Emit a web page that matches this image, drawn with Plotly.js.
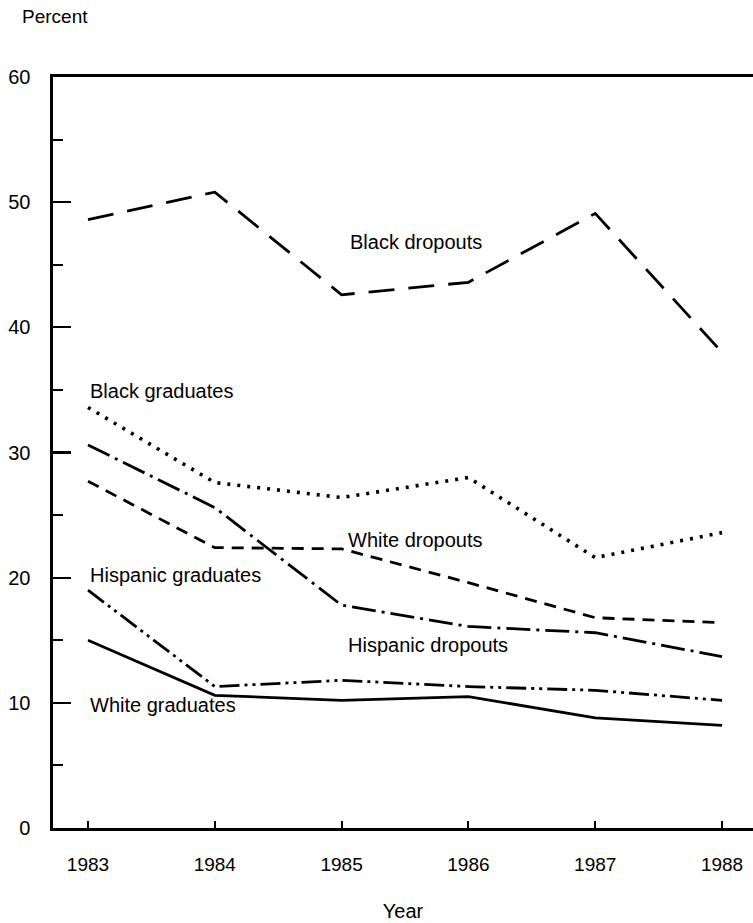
<!DOCTYPE html>
<html>
<head>
<meta charset="utf-8">
<script src="https://cdn.plot.ly/plotly-3.0.1.min.js"></script>
<style>html,body{margin:0;padding:0;background:#fff;}#chart{width:753px;height:923px;}</style>
</head>
<body>
<div id="chart"></div>
<script>
const years = [1983, 1984, 1985, 1986, 1987, 1988];
const blackDropouts = [48.6, 50.8, 42.6, 43.6, 49.1, 38.0];
const blackGraduates = [33.6, 27.6, 26.4, 28.0, 21.6, 23.6];
const hispanicDropouts = [30.6, 25.6, 17.8, 16.1, 15.6, 13.7];
const whiteDropouts = [27.7, 22.4, 22.3, 19.6, 16.8, 16.4];
const hispanicGraduates = [19.0, 11.3, 11.8, 11.3, 11.0, 10.2];
const whiteGraduates = [15.0, 10.6, 10.2, 10.5, 8.8, 8.2];
const yTicks = [0, 10, 20, 30, 40, 50, 60];
const xTickLabels = ['1983', '1984', '1985', '1986', '1987', '1988'];

const FONT = 'Liberation Sans, Arial, Helvetica, sans-serif';
const W = 2.8;
function tr(y, dash, w) {
  return {x: years, y: y, type: 'scatter', mode: 'lines',
    line: {color: 'black', width: w || W, dash: dash}, hoverinfo: 'skip', showlegend: false};
}
const data = [
  tr(blackDropouts, '26px,14px'),
  tr(blackGraduates, '3px,7px', 3.6),
  tr(hispanicDropouts, '24px,6px,3px,6px'),
  tr(whiteDropouts, '12px,8px'),
  tr(hispanicGraduates, '20px,5px,3px,5px,3px,5px'),
  tr(whiteGraduates, 'solid')
];

function lab(text, x, y) {
  return {text: text, x: x, y: y, xref: 'x', yref: 'y', xanchor: 'left', yanchor: 'middle',
    showarrow: false, font: {family: FONT, size: 20, color: 'black'}};
}
const layout = {
  width: 753, height: 923,
  margin: {l: 53, r: 0, t: 77, b: 95},
  paper_bgcolor: 'white', plot_bgcolor: 'white',
  font: {family: FONT, size: 19, color: 'black'},
  xaxis: {
    range: [1982.724, 1988.244], tickvals: years, ticktext: xTickLabels,
    showgrid: false, zeroline: false, showline: true, linecolor: 'black', linewidth: 2.6,
    mirror: true, ticks: 'inside', ticklen: 7, tickwidth: 2, tickcolor: 'black',
    ticklabelstandoff: 18, tickfont: {family: FONT, size: 19, color: 'black'},
    title: {text: 'Year', font: {family: FONT, size: 20, color: 'black'}, standoff: 30}
  },
  yaxis: {
    range: [0, 60], tickvals: yTicks, ticktext: yTicks.map(String),
    showgrid: false, zeroline: false, showline: true, linecolor: 'black', linewidth: 2.6,
    ticks: 'inside', ticklen: 18, tickwidth: 2.2, tickcolor: 'black',
    ticklabelstandoff: 16, tickfont: {family: FONT, size: 20, color: 'black'},
    minor: {dtick: 5, tick0: 0, ticks: 'inside', ticklen: 10, tickwidth: 2, tickcolor: 'black', showgrid: false}
  },
  annotations: [
    {text: 'Percent', x: -0.047, y: 1.081, xref: 'paper', yref: 'paper', xanchor: 'left', yanchor: 'middle',
     showarrow: false, font: {family: FONT, size: 19, color: 'black'}},
    lab('Black dropouts', 1985.05, 46.8),
    lab('Black graduates', 1983.0, 34.9),
    lab('White dropouts', 1985.035, 23.0),
    lab('Hispanic graduates', 1983.0, 20.2),
    lab('Hispanic dropouts', 1985.035, 14.6),
    lab('White graduates', 1983.0, 9.8)
  ]
};
Plotly.newPlot('chart', data, layout, {displayModeBar: false, staticPlot: true});
</script>
</body>
</html>
